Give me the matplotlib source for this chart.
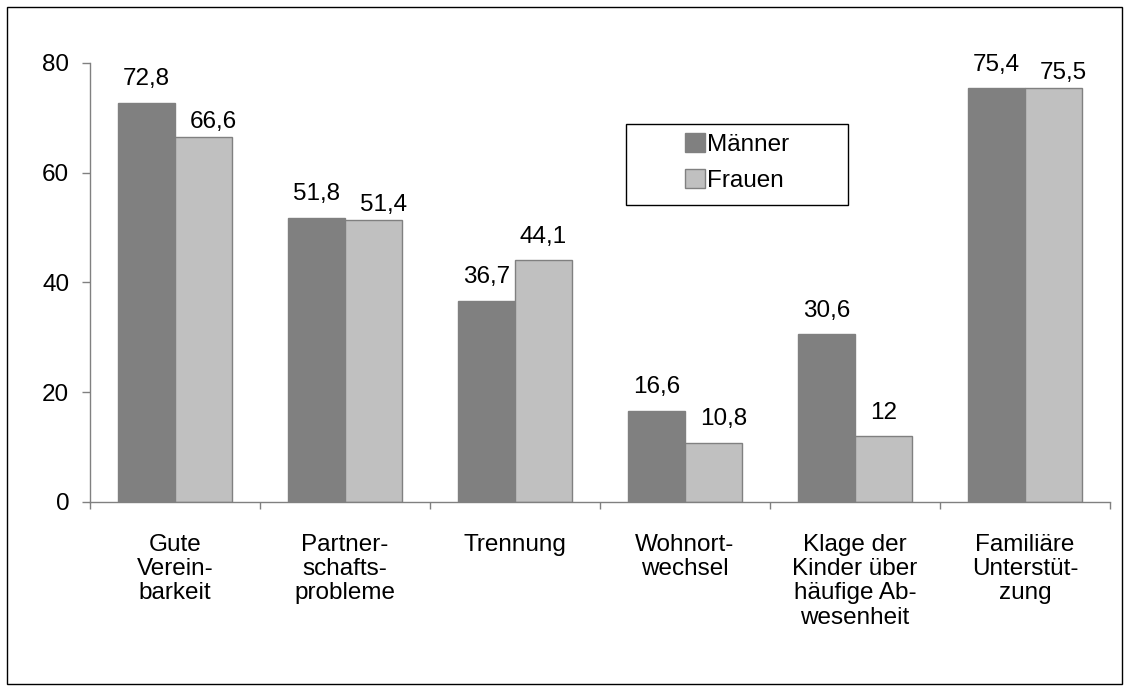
import matplotlib
matplotlib.use("Agg")
import matplotlib.pyplot as plt
from matplotlib.patches import Rectangle
import numpy as np

categories = ["Gute\nVerein-\nbarkeit", "Partner-\nschafts-\nprobleme", "Trennung",
              "Wohnort-\nwechsel", "Klage der\nKinder über\nhäufige Ab-\nwesenheit",
              "Familiäre\nUnterstüt-\nzung"]
maenner = [72.8, 51.8, 36.7, 16.6, 30.6, 75.4]
frauen = [66.6, 51.4, 44.1, 10.8, 12, 75.5]
series_names = ["Männer", "Frauen"]
yticks = [0, 20, 40, 60, 80]

plt.rcParams['font.family'] = ['Liberation Sans', 'DejaVu Sans']
fs = 17.5

fig = plt.figure(figsize=(11.3, 6.91), dpi=100)
ax = fig.add_axes([90/1130, 1-502/691, 1020/1130, (502-63)/691])

x = np.arange(len(categories))
w = 0.335
b1 = ax.bar(x - w/2, maenner, w, color="#808080", edgecolor="#808080", linewidth=1, label=series_names[0])
b2 = ax.bar(x + w/2, frauen, w, color="#C0C0C0", edgecolor="#808080", linewidth=1, label=series_names[1])

def fmt(v):
    return f"{v:g}".replace(".", ",")

for r, v in zip(b1, maenner):
    ax.annotate(fmt(v), (r.get_x() + r.get_width()/2, v), xytext=(0, 9),
                textcoords="offset points", ha="center", va="bottom", fontsize=fs)
for r, v, m in zip(b2, frauen, maenner):
    # nudge labels that sit close to the neighbouring Männer label
    near = abs(v - m) < 7
    dx = 7 if near else 0
    dy = 2.5 if (near and v > 20) else 9
    ax.annotate(fmt(v), (r.get_x() + r.get_width()/2, v), xytext=(dx, dy),
                textcoords="offset points", ha="center", va="bottom", fontsize=fs)

ax.set_xlim(-0.5, len(categories) - 0.5)
ax.set_ylim(0, 80)
ax.set_yticks(yticks)
ax.set_yticklabels([str(t) for t in yticks], fontsize=fs)
ax.tick_params(axis='y', direction='out', length=6, width=1, color="#808080", pad=9)
ax.set_xticks(x)
ax.set_xticklabels(categories, fontsize=fs, va="top", linespacing=1.13)
ax.tick_params(axis='x', which='major', length=0, pad=23)
ax.set_xticks(np.arange(len(categories) + 1) - 0.5, minor=True)
ax.tick_params(axis='x', which='minor', direction='out', length=5, width=1, color="#808080")

for s in ("top", "right"):
    ax.spines[s].set_visible(False)
for s in ("left", "bottom"):
    ax.spines[s].set_color("#808080")
    ax.spines[s].set_linewidth(1)

# legend box
fig.patches.append(Rectangle((626/1130, 1-205/691), (848-626)/1130, (205-124)/691,
                             transform=fig.transFigure, fill=False, edgecolor="black", linewidth=1))
leg = fig.legend(loc="upper left", bbox_to_anchor=(678/1130, 1-126/691), frameon=False,
                 fontsize=fs, handlelength=0.8, handleheight=0.8, handletextpad=0.1,
                 labelspacing=0.55, borderaxespad=0, borderpad=0.3)

# outer border
fig.patches.append(Rectangle((7/1130, 7/691), 1115/1130, 677/691, transform=fig.transFigure,
                             fill=False, edgecolor="black", linewidth=1))

fig.savefig("out.png", dpi=100)
